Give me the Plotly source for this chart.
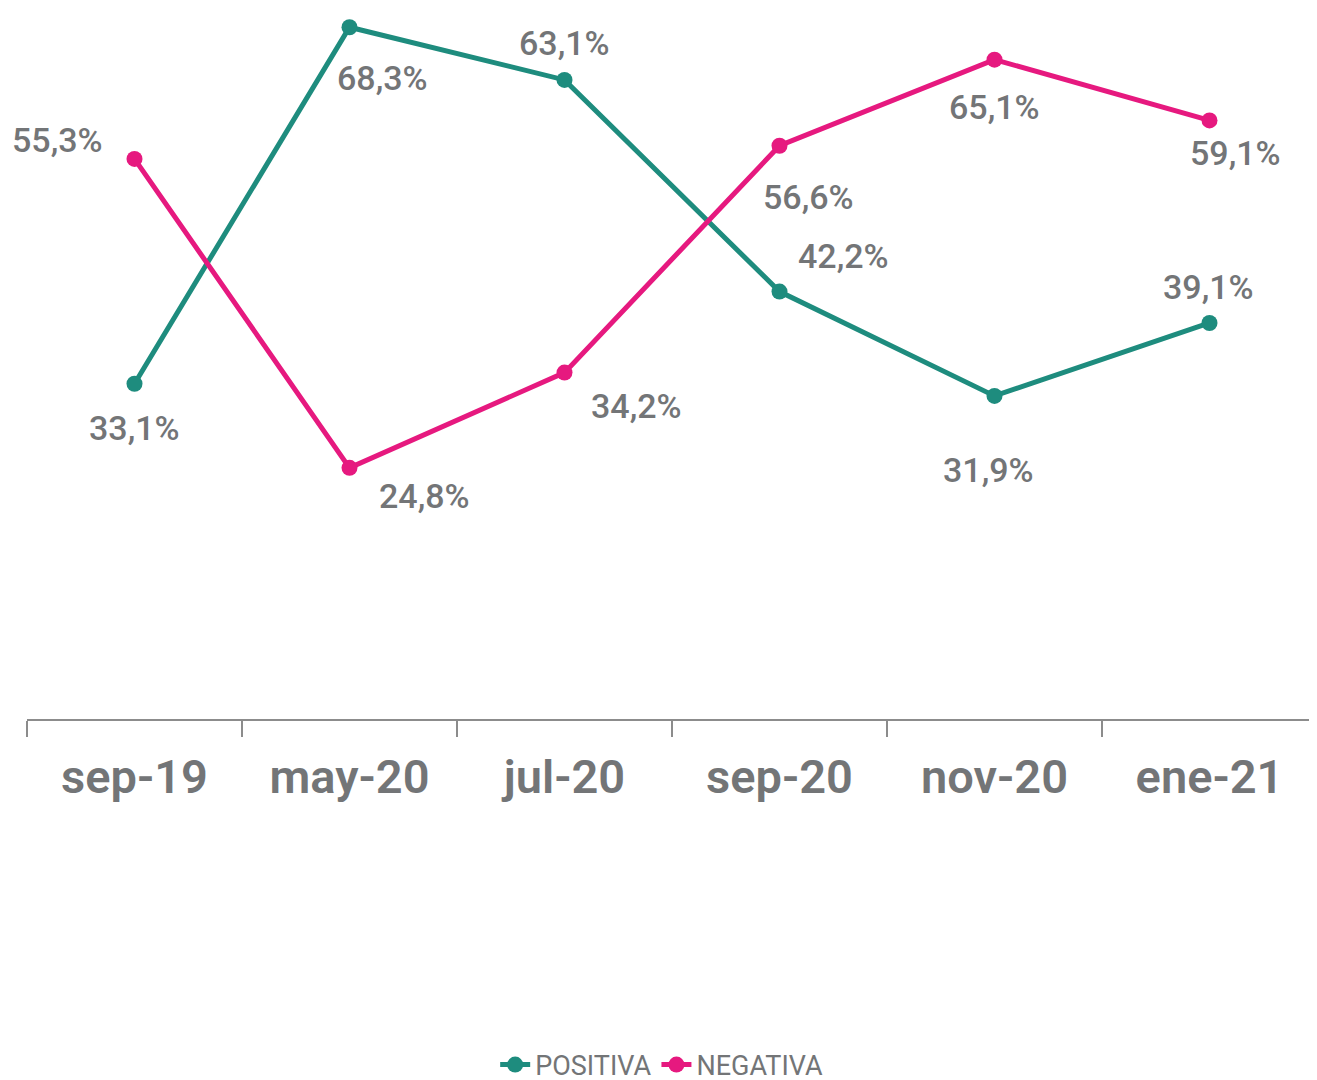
import plotly.graph_objects as go

categories = ["sep-19", "may-20", "jul-20", "sep-20", "nov-20", "ene-21"]
positiva = [33.1, 68.3, 63.1, 42.2, 31.9, 39.1]
negativa = [55.3, 24.8, 34.2, 56.6, 65.1, 59.1]

# label offsets (px) relative to each point: (xshift, yshift)
pos_offsets = [(0, -44), (33, -51), (0, 37), (64, 36), (-6, -74), (-1, 36)]
neg_offsets = [(-77, 19), (75, -28), (72, -33), (29, -51), (0, -47), (26, -33)]

TEAL = "#1E8C7E"
PINK = "#E6197F"
GRAY = "#737577"
FONT = "Roboto"

fig = go.Figure()
fig.add_trace(go.Scatter(x=categories, y=positiva, name="POSITIVA", mode="lines+markers",
                         line=dict(color=TEAL, width=5), marker=dict(size=16, color=TEAL)))
fig.add_trace(go.Scatter(x=categories, y=negativa, name="NEGATIVA", mode="lines+markers",
                         line=dict(color=PINK, width=5), marker=dict(size=16, color=PINK)))

def fmt(v):
    return f"{v:.1f}%".replace(".", ",")

for vals, offs in ((positiva, pos_offsets), (negativa, neg_offsets)):
    for c, v, (dx, dy) in zip(categories, vals, offs):
        fig.add_annotation(x=c, y=v, text=fmt(v), showarrow=False, xshift=dx, yshift=dy,
                           font=dict(family=FONT, size=34, color=GRAY, weight=500))

fig.update_layout(
    width=1309, height=1080,
    margin=dict(l=19, r=0, t=2, b=368.5, autoexpand=False),
    paper_bgcolor="white", plot_bgcolor="white",
    showlegend=True,
    legend=dict(orientation="h", x=0.492, xanchor="center", y=-0.488, yanchor="middle",
                font=dict(family=FONT, size=27, color=GRAY)),
    font=dict(family=FONT, color=GRAY),
)
fig.update_xaxes(type="category", range=[-0.5, 5.5], showgrid=False, showline=True,
                 linecolor="#8C8C8C", linewidth=2,
                 ticks="outside", tickson="boundaries", ticklen=16, tickcolor="#8C8C8C", tickwidth=2,
                 ticklabelstandoff=16, automargin=False,
                 tickfont=dict(family=FONT, size=47, color=GRAY, weight=600), zeroline=False)
fig.update_yaxes(range=[0, 70], visible=False, showgrid=False, zeroline=False)

fig.write_html("out.html")
